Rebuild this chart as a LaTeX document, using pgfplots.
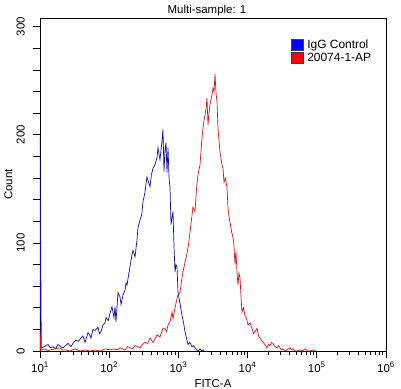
\documentclass[border=0pt]{standalone}
\usepackage{pgfplots}
\pgfplotsset{compat=1.18}
\usepackage{pgfplotstable}
\usepackage{fontspec}
\setmainfont{Liberation Sans}
\definecolor{curveblue}{RGB}{15,15,160}
\definecolor{curvered}{RGB}{205,25,25}
\pgfplotstableread{
d c
1.000 0
1.000 198
1.019 3
1.060 4
1.116 6
1.150 3
1.188 4
1.225 2
1.260 6
1.300 4
1.332 3
1.370 5
1.405 7
1.448 4
1.485 8
1.520 10
1.555 9
1.592 12
1.620 14
1.650 8
1.694 17
1.715 15
1.737 12
1.765 20
1.795 19
1.838 22
1.860 16
1.882 18
1.910 24
1.939 26
1.954 31
1.985 28
2.012 35
2.040 41
2.055 36
2.069 31
2.084 41
2.098 27
2.127 54
2.156 50
2.171 43
2.200 52
2.228 56
2.243 63
2.257 61
2.280 70
2.301 78
2.329 89
2.344 93
2.373 87
2.402 103
2.416 114
2.445 121
2.470 126
2.488 138
2.515 146
2.546 161
2.565 157
2.590 152
2.610 163
2.633 169
2.660 172
2.691 179
2.705 188
2.720 182
2.734 177
2.763 194
2.777 205
2.792 166
2.806 185
2.821 193
2.835 165
2.850 188
2.865 160
2.879 151
2.893 117
2.910 124
2.922 129
2.936 98
2.951 73
2.965 80
2.980 78
2.994 55
3.020 45
3.052 33
3.075 26
3.095 18
3.117 12
3.139 6
3.165 8
3.197 4
3.220 5
3.240 3
3.262 1
3.283 0
3.312 2
3.340 0
3.355 1
3.370 0
}\bluedata
\pgfplotstableread{
d c
1.000 0
1.000 19
1.015 1
1.072 2
1.110 0
1.145 1
1.217 2
1.289 3
1.325 1
1.361 1
1.434 0
1.506 2
1.578 0
1.650 1
1.723 0
1.795 1
1.867 0
1.939 2
2.012 1
2.084 2
2.120 1
2.156 3
2.228 1
2.265 4
2.301 3
2.340 2
2.373 5
2.410 4
2.445 3
2.480 6
2.517 8
2.555 7
2.590 12
2.633 8
2.660 11
2.691 15
2.734 13
2.777 21
2.806 21
2.830 18
2.850 24
2.880 27
2.908 36
2.922 30
2.951 40
2.975 47
2.994 52
3.023 54
3.045 65
3.066 73
3.095 82
3.124 90
3.145 98
3.168 110
3.190 122
3.211 133
3.240 129
3.262 150
3.283 163
3.312 172
3.341 197
3.362 210
3.384 218
3.400 225
3.413 234
3.428 209
3.443 220
3.457 228
3.472 233
3.486 237
3.500 243
3.515 240
3.529 256
3.544 238
3.558 231
3.572 206
3.587 195
3.601 184
3.630 172
3.645 169
3.659 156
3.680 160
3.702 151
3.717 132
3.730 125
3.746 119
3.770 110
3.789 105
3.803 98
3.818 80
3.832 92
3.847 73
3.861 61
3.876 72
3.890 68
3.905 50
3.919 36
3.940 40
3.962 33
3.985 30
4.006 24
4.035 26
4.064 21
4.085 16
4.107 18
4.136 21
4.158 14
4.179 12
4.200 10
4.223 8
4.250 6
4.280 3
4.300 6
4.324 5
4.345 8
4.367 7
4.395 4
4.425 3
4.450 5
4.468 3
4.490 1
4.512 2
4.540 0
4.569 1
4.590 2
4.613 3
4.635 1
4.656 2
4.690 0
4.714 0
4.757 1
4.790 0
4.829 2
4.870 0
4.902 0
4.945 1
4.988 0
}\reddata
\begin{document}
\begin{tikzpicture}
\begin{axis}[
  at={(0,0)}, anchor=south west,
  scale only axis, width=346bp, height=333bp,
  xmin=1, xmax=6, ymin=0, ymax=308,
  axis line style={line width=0.8bp, black},
  tick style={line width=0.7bp, black},
  tick align=outside,
  xtick pos=left, ytick pos=left,
  major tick length=7bp, minor tick length=4bp,
  xtick={1,2,3,4,5,6},
  xticklabels={10\textsuperscript{1},10\textsuperscript{2},10\textsuperscript{3},10\textsuperscript{4},10\textsuperscript{5},10\textsuperscript{6}},
  minor xtick={1.301,1.477,1.602,1.699,1.778,1.845,1.903,1.954,
               2.301,2.477,2.602,2.699,2.778,2.845,2.903,2.954,
               3.301,3.477,3.602,3.699,3.778,3.845,3.903,3.954,
               4.301,4.477,4.602,4.699,4.778,4.845,4.903,4.954,
               5.301,5.477,5.602,5.699,5.778,5.845,5.903,5.954},
  ytick={0,20,...,300},
  yticklabels={0,,,,,100,,,,,200,,,,,300},
  ticklabel style={font=\fontsize{11.5}{13}\selectfont},
  xticklabel style={anchor=north, inner sep=1bp, yshift=-3bp},
  yticklabel style={rotate=90, anchor=south, inner sep=1bp, yshift=7bp},
  xlabel={FITC-A},
  ylabel={Count},
  title={Multi-sample: 1},
  label style={font=\fontsize{11.5}{13}\selectfont},
  xlabel style={at={(axis description cs:0.5,0)}, anchor=base, yshift=-36bp},
  ylabel style={at={(axis description cs:0,0.5)}, anchor=center, yshift=31.5bp},
  title style={at={(axis description cs:0.5,1)}, anchor=base, yshift=-1bp, xshift=-6bp, font=\fontsize{11.5}{13}\selectfont},
  legend style={at={(rel axis cs:0.7254,0.937)}, anchor=north west, draw=none, fill=none,
    inner sep=0pt, row sep=1bp, column sep=3bp, font=\fontsize{12}{13}\selectfont,
    nodes={inner sep=0.5bp}},
  legend cell align=left,
]
\addplot[curveblue, line width=0.7bp, sharp plot, mark=none,
  legend image code/.code={\filldraw[fill=blue, draw=black!75, line width=0.6bp] (0bp,-5.5bp) rectangle (12bp,5.5bp);}]
  table[x=d, y=c] {\bluedata};
\addlegendentry{IgG Control}
\addplot[curvered, line width=0.7bp, sharp plot, mark=none,
  legend image code/.code={\filldraw[fill=red, draw=black!75, line width=0.6bp] (0bp,-5.5bp) rectangle (12bp,5.5bp);}]
  table[x=d, y=c] {\reddata};
\addlegendentry{20074-1-AP}
\end{axis}
\pgfresetboundingbox
\path[use as bounding box] (-40bp,-38bp) rectangle (361bp,351bp);
\end{tikzpicture}
\end{document}
